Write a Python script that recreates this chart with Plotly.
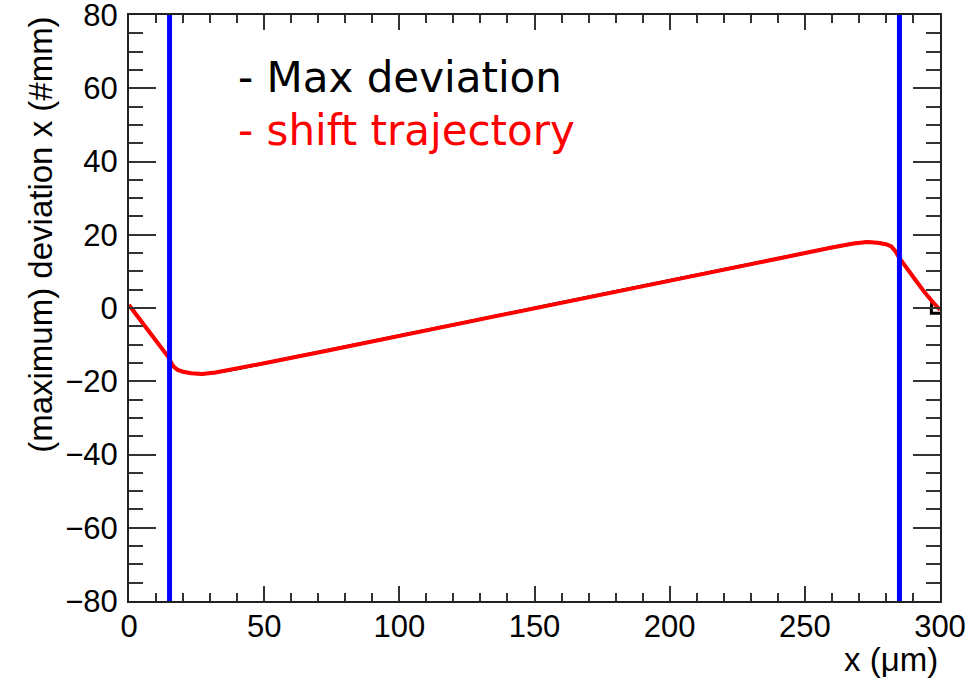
import plotly.graph_objects as go

# Position along the sensor (um)
pos_x = [0, 3, 6, 9, 12, 14.5, 15.5, 16.5, 18, 20, 23, 27, 32, 40, 50, 75, 100, 125, 150,
         175, 200, 225, 250, 260, 268, 273, 277, 280, 282, 283.5, 285, 288, 291, 294, 297, 300]

# Shifted trajectory deviation
shift_y = [0.8, -2.1, -5.0, -7.9, -10.8, -13.3, -14.8, -16.0, -16.9, -17.4, -17.8, -18.0, -17.6,
           -16.6, -15.1, -11.4, -7.6, -3.8, 0.0,
           3.8, 7.5, 11.3, 15.0, 16.5, 17.6, 18.0, 17.8, 17.4, 16.8, 15.5, 13.6, 10.6, 7.4,
           4.6, 1.9, -0.5]

# Maximum deviation (mostly hidden under the shifted trajectory)
maxdev_x = pos_x[:-1] + [296.8, 296.8, 300]
maxdev_y = shift_y[:-1] + [0.0, -1.4, -1.4]

# Boundaries of the active region
boundaries = [15, 285]

x_range = [0, 300]
y_range = [-80, 80]

fig = go.Figure()

fig.add_trace(go.Scatter(x=maxdev_x, y=maxdev_y, mode="lines",
                         line=dict(color="black", width=3), showlegend=False))
fig.add_trace(go.Scatter(x=pos_x, y=shift_y, mode="lines",
                         line=dict(color="#ff0000", width=4), showlegend=False))
for b in boundaries:
    fig.add_trace(go.Scatter(x=[b, b], y=y_range, mode="lines",
                             line=dict(color="#0000ff", width=5), showlegend=False))

tick_font = dict(family="Liberation Sans, Arial, sans-serif", size=31, color="black")

fig.update_layout(
    width=978, height=679,
    margin=dict(l=129, r=38, t=15, b=78, autoexpand=False),
    plot_bgcolor="white", paper_bgcolor="white",
    xaxis=dict(range=x_range, dtick=50, tick0=0, ticks="inside", ticklen=15, tickwidth=1.5,
               tickcolor="#333", showline=True, linecolor="#222", linewidth=2, mirror="allticks",
               showgrid=False, zeroline=False, tickfont=tick_font, ticklabelstandoff=-3,
               ticklabeloverflow="allow", automargin=False,
               minor=dict(dtick=10, ticks="inside", ticklen=8, tickwidth=1.5, tickcolor="#333",
                          showgrid=False)),
    yaxis=dict(range=y_range, dtick=20, tick0=0, ticks="inside", ticklen=27, tickwidth=1.5,
               tickcolor="#333", showline=True, linecolor="#222", linewidth=2, mirror="allticks",
               showgrid=False, zeroline=False, tickfont=tick_font, ticklabelstandoff=3,
               ticklabeloverflow="allow", automargin=False,
               minor=dict(dtick=5, ticks="inside", ticklen=14, tickwidth=1.5, tickcolor="#333",
                          showgrid=False)),
)

title_font = dict(family="Liberation Sans, Arial, sans-serif", size=33, color="black")

fig.add_annotation(text="x (\u03bcm)", xref="paper", yref="paper", x=1, y=-0.10,
                   xanchor="right", yanchor="middle", showarrow=False, font=title_font)
fig.add_annotation(text="(maximum) deviation x (#mm)", xref="paper", yref="paper",
                   x=-0.11, y=1, xanchor="center", yanchor="top", textangle=-90,
                   showarrow=False, font=title_font)

legend_font = "DejaVu Sans, Verdana, sans-serif"
fig.add_annotation(text="- Max deviation", xref="paper", yref="paper", x=0.132, y=0.893,
                   xanchor="left", yanchor="middle", showarrow=False,
                   font=dict(family=legend_font, size=42, color="black"))
fig.add_annotation(text="- shift trajectory", xref="paper", yref="paper", x=0.132, y=0.803,
                   xanchor="left", yanchor="middle", showarrow=False,
                   font=dict(family=legend_font, size=42, color="#ff0000"))

fig.write_html("out.html")
